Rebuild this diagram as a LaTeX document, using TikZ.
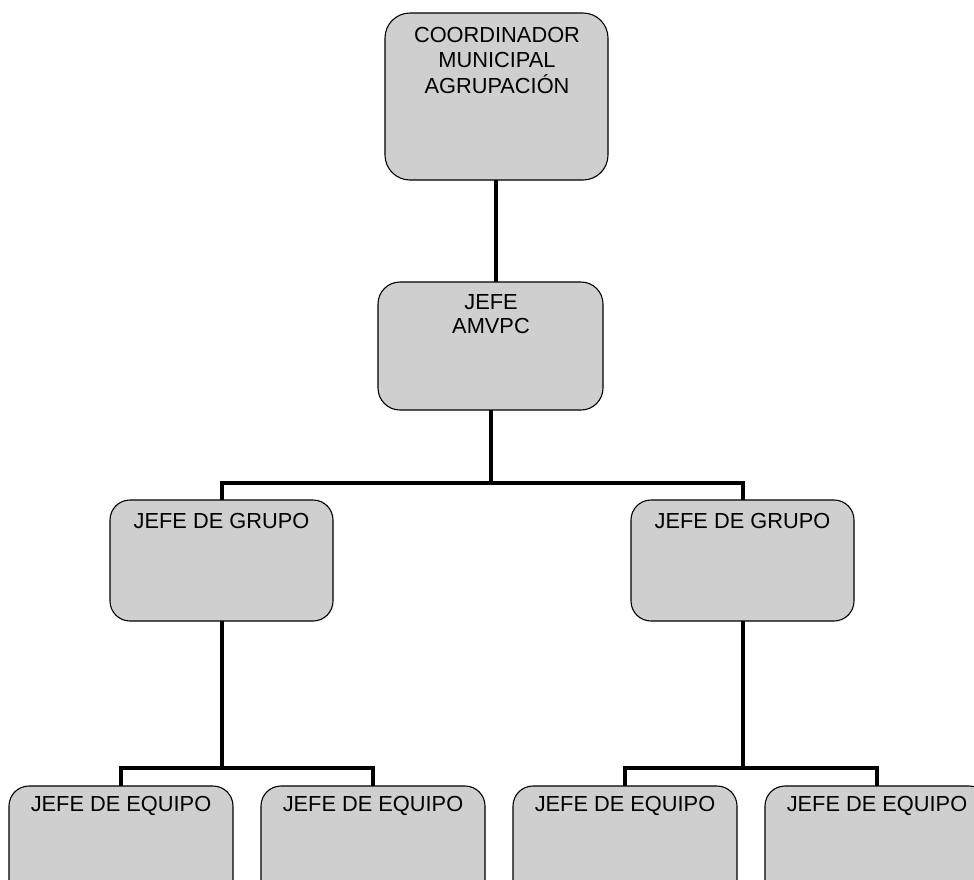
\documentclass[tikz,border=0pt]{standalone}
\usepackage{fontspec}
\setmainfont{Liberation Sans}
\definecolor{boxgray}{RGB}{207,207,207}
\begin{document}
\begin{tikzpicture}[x=1pt,y=-1pt,
  orgbox/.style={draw=black,line width=1.1pt,fill=boxgray,rounded corners=#1,inner sep=0pt,outer sep=0pt},
  orgbox/.default=22pt,
  orgtext/.style={anchor=base,inner sep=0pt,align=center,font=\fontsize{21.8}{25}\selectfont},
  conn/.style={line width=4pt,black}]
\useasboundingbox (0,0) rectangle (974,879);
\clip (0,0) rectangle (974,879);
\fill[white] (0,0) rectangle (974,879);
% boxes
\node[orgbox=25pt,minimum width=223pt,minimum height=167pt] (coord) at (496.5,96.5) {};
\node[orgbox=22pt,minimum width=225pt,minimum height=128pt] (amvpc) at (490.5,346) {};
\node[orgbox=20pt,minimum width=223pt,minimum height=121pt] (gl) at (221.5,560.5) {};
\node[orgbox=20pt,minimum width=223pt,minimum height=121pt] (gr) at (742.5,560.5) {};
\node[orgbox=20pt,minimum width=224pt,minimum height=124pt] (e1) at (121,848) {};
\node[orgbox=20pt,minimum width=224pt,minimum height=124pt] (e2) at (373,848) {};
\node[orgbox=20pt,minimum width=224pt,minimum height=124pt] (e3) at (625,848) {};
\node[orgbox=20pt,minimum width=224pt,minimum height=124pt] (e4) at (877,848) {};
% texts
\node[orgtext,font=\fontsize{21.8}{25.5}\selectfont] (tcoord) at (497,93) {COORDINADOR\\MUNICIPAL\\AGRUPACIÓN};
\node[orgtext,font=\fontsize{21.8}{24}\selectfont] (tamvpc) at (491,333) {JEFE\\AMVPC};
\node[orgtext] (tgl) at (221.5,528) {JEFE DE GRUPO};
\node[orgtext] (tgr) at (742.5,528) {JEFE DE GRUPO};
\node[orgtext] (te1) at (121,811) {JEFE DE EQUIPO};
\node[orgtext] (te2) at (373,811) {JEFE DE EQUIPO};
\node[orgtext] (te3) at (625,811) {JEFE DE EQUIPO};
\node[orgtext] (te4) at (877,811) {JEFE DE EQUIPO};
% connectors
\coordinate (j1) at (491,483);
\coordinate (j2) at (222,768);
\coordinate (j3) at (743,768);
\coordinate (c1) at (496,0);
\draw[conn] (coord.south -| c1) -- (amvpc.north -| c1);
\draw[conn] (amvpc.south -| j1) -- (j1);
\draw[conn] (gl.north) |- (j1) -| (gr.north);
\draw[conn] (gl.south -| j2) -- (j2);
\draw[conn] (e1.north) |- (j2) -| (e2.north);
\draw[conn] (gr.south -| j3) -- (j3);
\draw[conn] (e3.north) |- (j3) -| (e4.north);
\end{tikzpicture}
\end{document}
